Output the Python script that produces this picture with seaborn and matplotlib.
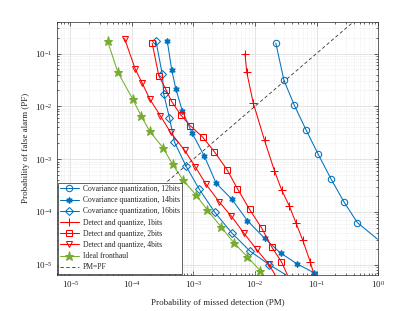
import numpy as np
import pandas as pd
import matplotlib
matplotlib.use("Agg")
import matplotlib.pyplot as plt
import seaborn as sns

# values (PM on x, PF on y); the last entry of some
# series is only where the line leaves the axes, with no marker drawn
cq12_pm = [2.18e-2, 2.96e-2, 4.37e-2, 6.78e-2, 0.106, 0.171, 0.277, 0.461, 0.98]
cq12_pf = [0.157, 0.0309, 0.0104, 3.55e-3, 1.25e-3, 4.26e-4, 1.57e-4, 6.28e-5, 3.05e-5]

cq14_pm = [3.76e-4, 4.45e-4, 5.16e-4, 6.62e-4, 9.57e-4, 1.51e-3, 2.34e-3,
           4.19e-3, 7.55e-3, 1.43e-2, 2.61e-2, 4.84e-2, 9.14e-2]
cq14_pf = [0.171, 0.0483, 0.0216, 8.11e-3, 3.08e-3, 1.13e-3, 3.49e-4,
           1.75e-4, 6.82e-5, 3.18e-5, 1.66e-5, 1.04e-5, 7.03e-6]

cq16_pm = [2.46e-4, 3.12e-4, 3.30e-4, 4.07e-4, 4.92e-4, 7.59e-4, 1.23e-3,
           2.22e-3, 4.19e-3, 8.26e-3, 1.72e-2, 3.21e-2]
cq16_pf = [0.173, 0.0401, 0.0168, 6.11e-3, 2.10e-3, 7.34e-4, 2.75e-4,
           9.87e-5, 4.01e-5, 1.82e-5, 9.96e-6, 6.4e-6]

dq1_pm = [6.89e-3, 7.33e-3, 9.35e-3, 1.43e-2, 2.07e-2, 2.71e-2, 3.61e-2,
          4.61e-2, 5.94e-2, 7.87e-2, 9.14e-2]
dq1_pf = [0.0991, 0.0449, 0.0117, 2.27e-3, 6.04e-4, 2.61e-4, 1.30e-4,
          6.28e-5, 2.96e-5, 1.15e-5, 6.4e-6]

dq2_pm = [2.14e-4, 2.74e-4, 3.58e-4, 4.45e-4, 6.22e-4, 8.94e-4, 1.41e-3,
          2.18e-3, 3.50e-3, 5.20e-3, 8.15e-3, 1.28e-2, 1.88e-2, 2.69e-2, 3.37e-2]
dq2_pf = [0.155, 0.0380, 0.0207, 0.0122, 6.88e-3, 4.26e-3, 2.62e-3,
          1.39e-3, 6.36e-4, 2.75e-4, 1.12e-4, 4.99e-5, 2.15e-5, 1.14e-5, 6.4e-6]

dq4_pm = [7.60e-5, 1.135e-4, 1.48e-4, 1.94e-4, 2.89e-4, 4.25e-4, 7.18e-4,
          1.07e-3, 1.61e-3, 2.62e-3, 4.14e-3, 6.61e-3, 1.06e-2, 1.66e-2, 2.13e-2]
dq4_pf = [0.192, 0.0505, 0.0271, 0.0139, 6.67e-3, 3.21e-3, 1.47e-3,
          7.18e-4, 3.31e-4, 1.55e-4, 8.30e-5, 3.96e-5, 1.95e-5, 1.04e-5, 6.4e-6]

ideal_pm = [4.03e-5, 5.94e-5, 1.04e-4, 1.41e-4, 1.94e-4, 3.20e-4, 4.58e-4,
            6.76e-4, 1.11e-3, 1.69e-3, 2.79e-3, 4.59e-3, 7.55e-3, 1.22e-2, 1.35e-2]
ideal_pf = [0.171, 0.0437, 0.0135, 6.61e-3, 3.40e-3, 1.64e-3, 7.97e-4,
            4.03e-4, 2.07e-4, 1.08e-4, 5.27e-5, 2.56e-5, 1.41e-5, 7.67e-6, 6.4e-6]

diag = [6e-6, 0.4]

blue = "#0072BD"
red = "#FF0000"
green = "#77AC30"

series = [
    ("Covariance quantization, 12bits", cq12_pm, cq12_pf, blue, "o", 4.6, 8),
    ("Covariance quantization, 14bits", cq14_pm, cq14_pf, blue, (6, 1, 0), 4.5, 13),
    ("Covariance quantization, 16bits", cq16_pm, cq16_pf, blue, "D", 3.6, 11),
    ("Detect and quantize, 1bits", dq1_pm, dq1_pf, red, "+", 5.5, 10),
    ("Detect and quantize, 2bits", dq2_pm, dq2_pf, red, "s", 4, 14),
    ("Detect and quantize, 4bits", dq4_pm, dq4_pf, red, "v", 5, 14),
    ("Ideal fronthaul", ideal_pm, ideal_pf, green, "*", 6.5, 14),
]

sns.set_style("ticks")
plt.rcParams["font.family"] = ["Liberation Serif", "DejaVu Serif"]
plt.rcParams["mathtext.fontset"] = "stix"

fig = plt.figure(figsize=(4.15, 3.11), dpi=100)
ax = fig.add_axes([0.1366, 0.1158, 0.7744, 0.8144])
ax.set_xscale("log")
ax.set_yscale("log")

for name, pm, pf, col, mk, ms, nmark in series:
    df = pd.DataFrame({"PM": pm, "PF": pf})
    filled = mk in ("*", (6, 1, 0))
    sns.lineplot(data=df, x="PM", y="PF", ax=ax, color=col, lw=0.75,
                 sort=False, estimator=None, label=name,
                 marker=mk, markersize=ms, markevery=list(range(nmark)),
                 markeredgecolor=col, markeredgewidth=0.75,
                 markerfacecolor=col if filled else "none")

sns.lineplot(x=diag, y=diag, ax=ax, color="#333333", lw=0.6,
             linestyle=(0, (4, 3)), label="PM=PF", sort=False, estimator=None)

ax.set_xlim(6e-6, 1)
ax.set_ylim(6.4e-6, 0.4)
ax.set_xticks([1e-5, 1e-4, 1e-3, 1e-2, 1e-1, 1])
ax.set_yticks([1e-5, 1e-4, 1e-3, 1e-2, 1e-1])
ax.tick_params(which="both", direction="in", top=True, right=True,
               labelsize=6.5, colors="#262626", width=0.5)
ax.tick_params(which="major", length=3, pad=3)
ax.tick_params(which="minor", length=1.6)
ax.grid(which="major", color="#d9d9d9", lw=0.5, linestyle="-")
ax.grid(which="minor", color="#e3e3e3", lw=0.5, linestyle=(0, (1, 1.5)))
ax.set_axisbelow(True)
for s in ax.spines.values():
    s.set_linewidth(0.5)
    s.set_color("#262626")

ax.set_xlabel("Probability of missed detection (PM)", fontsize=6.5)
ax.set_ylabel("Probability of false alarm (PF)", fontsize=6.5)
ax.xaxis.set_label_coords(0.5, -0.095)
ax.yaxis.set_label_coords(-0.083, 0.5)

leg = ax.legend(loc="lower left", bbox_to_anchor=(0.003, 0.005), borderaxespad=0,
                fontsize=5.5, frameon=True, fancybox=False, framealpha=1,
                edgecolor="#262626", handlelength=2.5, handletextpad=0.5,
                labelspacing=0.42, borderpad=0.3)
leg.get_frame().set_linewidth(0.5)

fig.savefig("out.png", dpi=100)
